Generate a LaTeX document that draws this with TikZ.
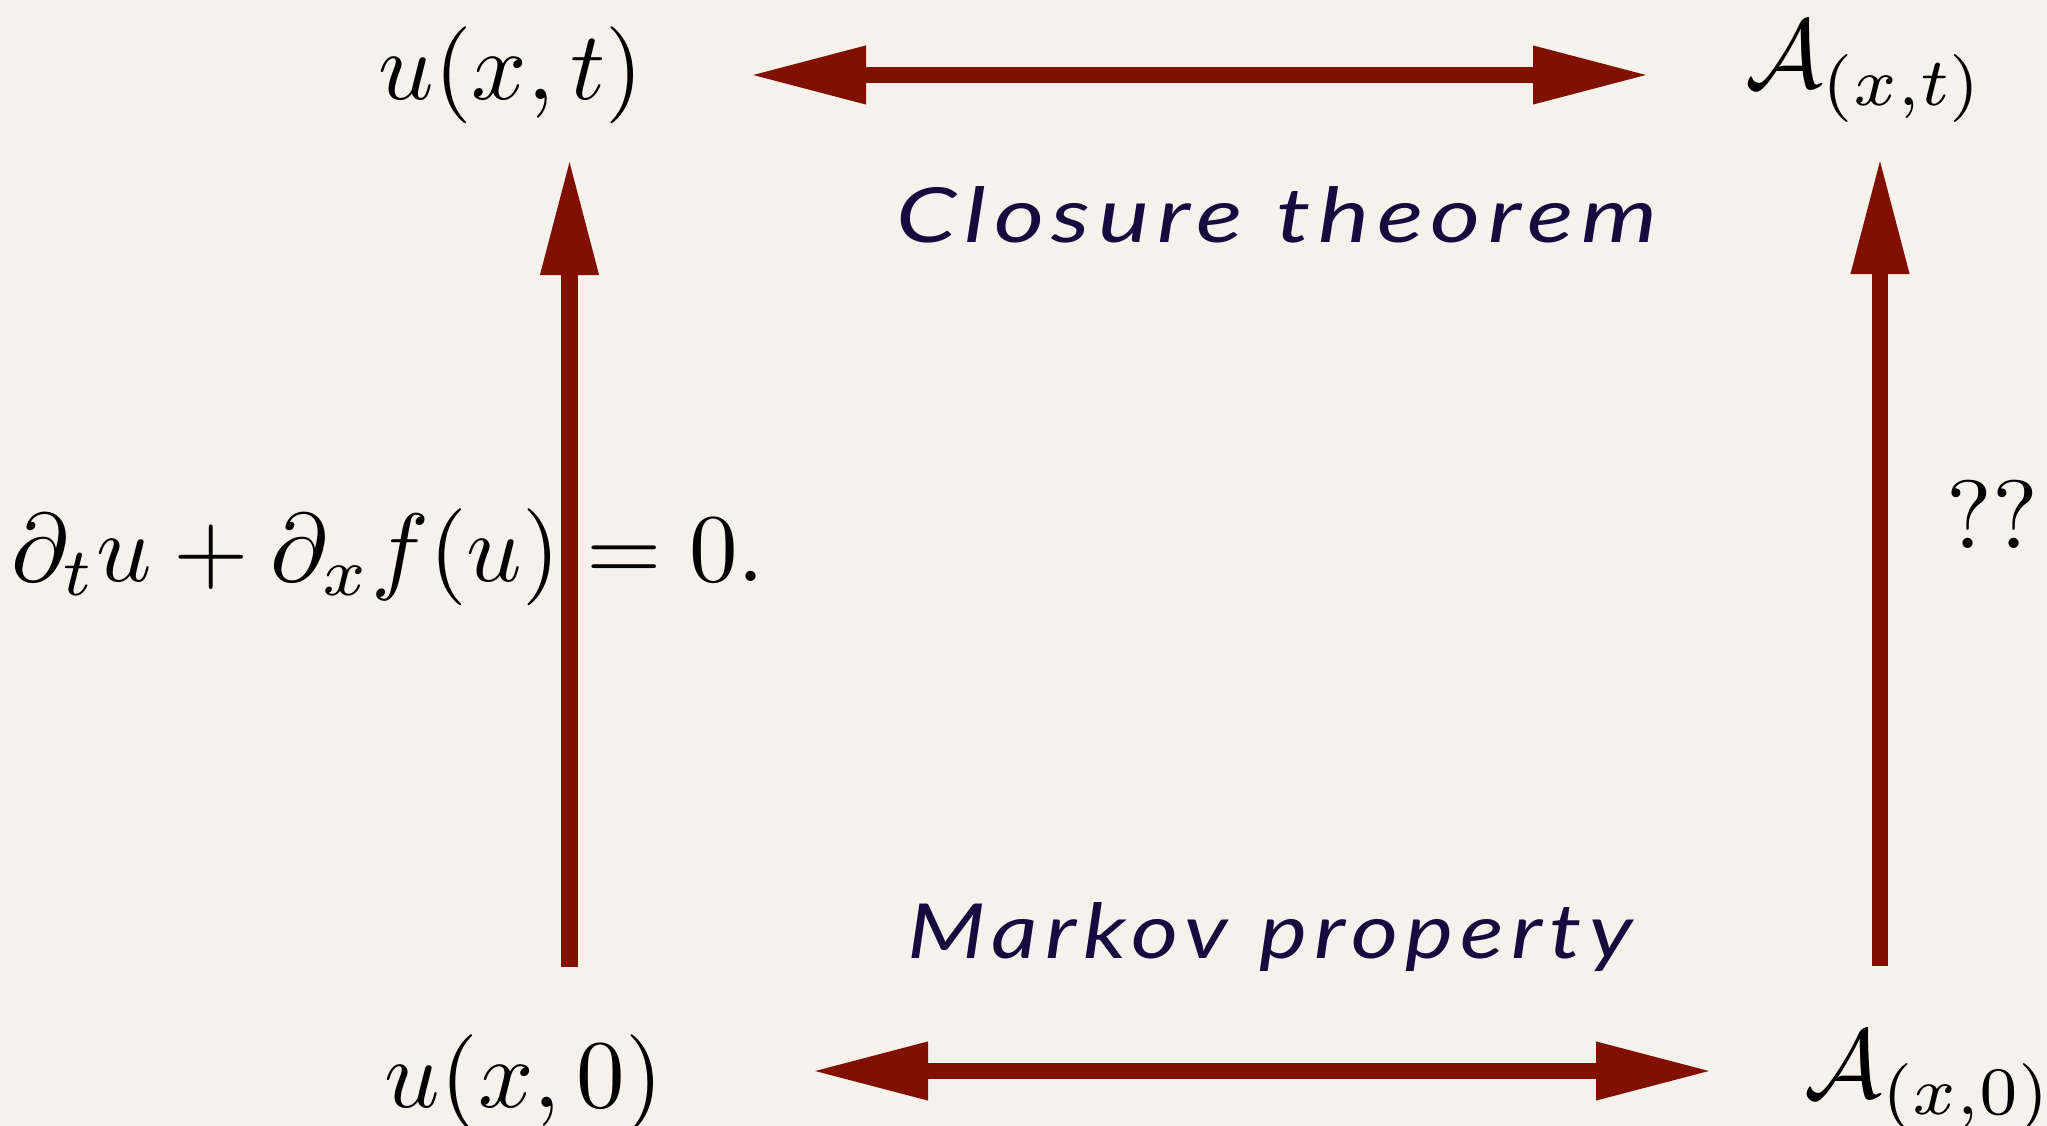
\documentclass[tikz,border=0pt]{standalone}
\usepackage{fontspec}
\newfontfamily\hand{Lato}[LetterSpace=8]
\usetikzlibrary{arrows.meta}
\definecolor{bgcol}{RGB}{245,242,236}
\definecolor{arrred}{RGB}{130,16,0}
\definecolor{inkcol}{RGB}{22,10,62}
\tikzset{
  arr/.style={draw=arrred, line width=16.5pt, -{Triangle[length=117pt,width=54pt]}},
  darr/.style={draw=arrred, line width=16.5pt, {Triangle[length=117pt,width=54pt]}-{Triangle[length=117pt,width=54pt]}},
  mathlbl/.style={inner sep=0pt, anchor=base},
  handlbl/.style={inner sep=0pt, anchor=base, text=inkcol},
}
\newcommand\mth[1]{\scalebox{9.7}{$#1$}}
\newcommand\hnd[2]{\resizebox{#1}{\height}{\hand\itshape\fontsize{76}{80}\selectfont #2}}
\begin{document}
\begin{tikzpicture}[x=1pt,y=-1pt]
  \useasboundingbox (0,0) rectangle (2047,1126);
  \fill[bgcol] (0,0) rectangle (2047,1126);
  % nodes
  \node[mathlbl] (ut) at (511,100) {\mth{u(x,t)}};
  \node[mathlbl] (u0) at (524,1107) {\mth{u(x,0)}};
  \node[mathlbl] (At) at (1865,88) {\mth{\mathcal{A}_{(x,t)}}};
  \node[mathlbl] (A0) at (1929,1097) {\mth{\mathcal{A}_{(x,0)}}};
  \node[mathlbl] (eq) at (388,581) {\mth{\partial_t u + \partial_x f(u) = 0.}};
  \node[mathlbl] (qq) at (1992,548) {\mth{??}};
  \node[handlbl] (cl) at (1277,243) {\hnd{761pt}{Closure\hspace{0.35em}theorem}};
  \node[handlbl] (mk) at (1270,958) {\hnd{725pt}{Markov\hspace{0.35em}property}};
  % arrow end points
  \coordinate (tl) at (749,75);
  \coordinate (tr) at (1650,75);
  \coordinate (bl) at (811,1071);
  \coordinate (br) at (1713,1071);
  \coordinate (lb) at (569.5,967);
  \coordinate (lt) at (569.5,158);
  \coordinate (rb) at (1880,966);
  \coordinate (rt) at (1880,157);
  % connectors
  \draw[darr] (tl) -- (tr);
  \draw[darr] (bl) -- (br);
  \draw[arr] (lb) -- (lt);
  \draw[arr] (rb) -- (rt);
\end{tikzpicture}
\end{document}
